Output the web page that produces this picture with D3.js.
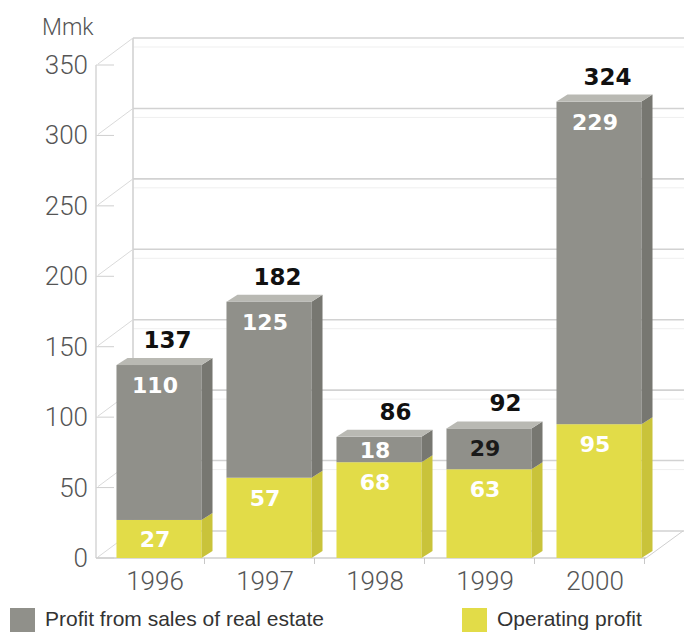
<!DOCTYPE html>
<html>
<head>
<meta charset="utf-8">
<script src="https://cdn.jsdelivr.net/npm/d3@7"></script>
<style>
  body { margin: 0; background: #fff; }
  svg { display: block; }
</style>
</head>
<body>
<div id="chart"></div>
<script>
// data
const years = ["1996", "1997", "1998", "1999", "2000"]
const operatingProfit = [27, 57, 68, 63, 95]
const realEstateProfit = [110, 125, 18, 29, 229]
const totals = [137, 182, 86, 92, 324]
const yTicks = [0, 50, 100, 150, 200, 250, 300, 350]
const seriesNames = ["Profit from sales of real estate", "Operating profit"]

const colors = {
  grayFront: "#90908a", graySide: "#777771", grayTop: "#b9b9b3",
  yellowFront: "#e2dc48", yellowSide: "#c9c33a", yellowTop: "#eeea8a",
  grid: "#d2d2d2", axisText: "#555"
}

const W = 684, H = 632
// wall depth offset and bar depth offset
const wall = {dx: 37, dy: -27}
const depth = {dx: 11, dy: -7}

const svg = d3.select("#chart").append("svg")
  .attr("width", W).attr("height", H)

const y = d3.scaleLinear().domain([0, 350]).range([558, 65])

const x = d3.scaleBand()
  .domain(years)
  .range([104, 654])
  .paddingInner(0.227)
  .paddingOuter(0.1135)

const axisX0 = 96, axisX1 = 646

// back wall
const back = svg.append("g").attr("stroke", colors.grid).attr("fill", "none")
back.selectAll("line.grid")
  .data(yTicks)
  .enter().append("line")
  .attr("x1", axisX0 + wall.dx).attr("x2", axisX1 + wall.dx + 2)
  .attr("y1", d => y(d) + wall.dy).attr("y2", d => y(d) + wall.dy)
  .attr("stroke-width", 1.6)
back.selectAll("line.grid2")
  .data(yTicks.slice(1))
  .enter().append("line")
  .attr("x1", axisX0 + wall.dx).attr("x2", axisX1 + wall.dx + 2)
  .attr("y1", d => y(d) + wall.dy + 9).attr("y2", d => y(d) + wall.dy + 9)
  .attr("stroke", "#efefef")
back.append("line")
  .attr("x1", axisX0 + wall.dx).attr("x2", axisX0 + wall.dx)
  .attr("y1", y(350) + wall.dy).attr("y2", y(0) + wall.dy)
  .attr("stroke-width", 1.6)
back.append("line")
  .attr("x1", axisX1 + wall.dx + 2).attr("x2", axisX1 + wall.dx + 2)
  .attr("y1", y(350) + wall.dy).attr("y2", y(0) + wall.dy)
  .attr("stroke-width", 1.6)

// left wall diagonals and ticks
back.selectAll("line.diag")
  .data(yTicks)
  .enter().append("line")
  .attr("x1", axisX0 + 2).attr("y1", d => y(d) - 1)
  .attr("x2", axisX0 + wall.dx).attr("y2", d => y(d) + wall.dy)
  .attr("stroke", "#dadada")
back.selectAll("line.tick")
  .data(yTicks)
  .enter().append("line")
  .attr("x1", axisX0).attr("x2", axisX0 + 18)
  .attr("y1", d => y(d)).attr("y2", d => y(d))
  .attr("stroke", "#cfcfcf")
back.append("line")
  .attr("x1", axisX0).attr("x2", axisX0)
  .attr("y1", y(350)).attr("y2", y(0))
  .attr("stroke", "#d6d6d6").attr("stroke-width", 1.5)

// floor
back.append("line")
  .attr("x1", axisX0).attr("x2", axisX1)
  .attr("y1", y(0)).attr("y2", y(0))
  .attr("stroke", "#cfcfcf").attr("stroke-width", 1.5)
back.append("line")
  .attr("x1", axisX1).attr("y1", y(0))
  .attr("x2", axisX1 + wall.dx).attr("y2", y(0) + wall.dy)
  .attr("stroke", "#cfcfcf")
back.selectAll("line.xtick")
  .data(years)
  .enter().append("line")
  .attr("x1", d => x(d) + x.bandwidth() + 3).attr("x2", d => x(d) + x.bandwidth() + 3)
  .attr("y1", y(0)).attr("y2", y(0) + 6)
  .attr("stroke", "#c8c8c8")

// bars
const stacks = years.map((yr, i) => ({
  year: yr,
  segments: [
    {v0: 0, v1: operatingProfit[i], front: colors.yellowFront, side: colors.yellowSide, top: colors.yellowTop,
      label: operatingProfit[i], labelColor: "#fff"},
    {v0: operatingProfit[i], v1: operatingProfit[i] + realEstateProfit[i], front: colors.grayFront,
      side: colors.graySide, top: colors.grayTop, label: realEstateProfit[i],
      labelColor: yr === "1999" ? "#1a1a1a" : "#fff"}
  ],
  total: totals[i]
}))

const barGroups = svg.selectAll("g.bar")
  .data(stacks)
  .enter().append("g")
  .classed("bar", true)

barGroups.each(function(d) {
  const g = d3.select(this)
  const x0 = x(d.year), x1 = x0 + x.bandwidth()
  d.segments.forEach((s, si) => {
    const yt = y(s.v1), yb = y(s.v0)
    g.append("rect")
      .attr("x", x0).attr("y", yt)
      .attr("width", x.bandwidth()).attr("height", yb - yt)
      .attr("fill", s.front)
    g.append("path")
      .attr("d", `M${x1},${yt}L${x1 + depth.dx},${yt + depth.dy}L${x1 + depth.dx},${yb + depth.dy}L${x1},${yb}Z`)
      .attr("fill", s.side)
    if (si === d.segments.length - 1) {
      g.append("path")
        .attr("d", `M${x0},${yt}L${x0 + depth.dx},${yt + depth.dy}L${x1 + depth.dx},${yt + depth.dy}L${x1},${yt}Z`)
        .attr("fill", s.top)
    }
    // segment label
    const cy = Math.min(yt + 20, (yt + yb) / 2)
    g.append("text")
      .attr("x", (x0 + x1) / 2 - 4)
      .attr("y", cy + 8)
      .attr("text-anchor", "middle")
      .attr("font-family", "DejaVu Sans")
      .attr("font-weight", "bold")
      .attr("font-size", 22)
      .attr("fill", s.labelColor)
      .text(s.label)
  })
  g.append("text")
    .attr("x", x1 - 10)
    .attr("y", y(d.total) - 17)
    .attr("text-anchor", "end")
    .attr("font-family", "DejaVu Sans")
    .attr("font-weight", "bold")
    .attr("font-size", 23)
    .attr("fill", "#111")
    .text(d.total)
})

// y axis labels
svg.selectAll("text.ylab")
  .data(yTicks)
  .enter().append("text")
  .attr("x", 88)
  .attr("y", d => y(d) + 9)
  .attr("text-anchor", "end")
  .attr("font-family", "Roboto")
  .attr("font-weight", 300)
  .attr("font-size", 26)
  .attr("fill", colors.axisText)
  .text(d => d)

svg.append("text")
  .attr("x", 42).attr("y", 35)
  .attr("font-family", "Roboto")
  .attr("font-weight", 300)
  .attr("font-size", 23)
  .attr("fill", colors.axisText)
  .text("Mmk")

// x axis labels
svg.selectAll("text.xlab")
  .data(years)
  .enter().append("text")
  .attr("x", d => x(d) + x.bandwidth() / 2 - 4)
  .attr("y", 590)
  .attr("text-anchor", "middle")
  .attr("font-family", "Roboto")
  .attr("font-weight", 300)
  .attr("font-size", 26)
  .attr("fill", colors.axisText)
  .text(d => d)

// legend
const legendX = [10, 462]
const legendColors = [colors.grayFront, colors.yellowFront]
const legend = svg.selectAll("g.legend")
  .data(seriesNames)
  .enter().append("g")
  .attr("transform", (d, i) => `translate(${legendX[i]},608)`)
legend.append("rect")
  .attr("width", 25).attr("height", 24)
  .attr("fill", (d, i) => legendColors[i])
legend.append("text")
  .attr("x", 35).attr("y", 18)
  .attr("font-family", "Liberation Sans, Arial, sans-serif")
  .attr("font-size", 21)
  .attr("fill", "#333")
  .text(d => d)
</script>
</body>
</html>
